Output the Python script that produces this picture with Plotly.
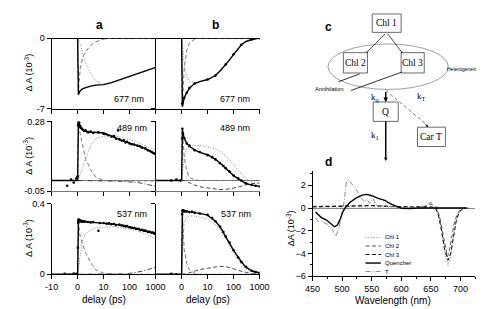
import math
import plotly.graph_objects as go

W, H = 484, 309

# ---------------- data: kinetics (delay in ps) ----------------
T_FIT = [-10, -2, 0, 0.3, 1, 2, 3, 5, 7, 10, 20, 30, 50, 70, 100, 200, 300, 500, 1000]

A677_fit  = [0, 0, 0, -5.6, -5.2, -5.0, -4.9, -4.75, -4.65, -4.6, -4.4, -4.25, -4.05, -3.92, -3.8, -3.55, -3.42, -3.2, -2.9]
A677_slow = [0, 0, 0, -0.1, -0.6, -1.6, -2.4, -3.5, -4.25, -4.55, -4.45, -4.3, -4.1, -3.97, -3.85, -3.6, -3.47, -3.25, -2.95]
A677_fast = [0, 0, 0, -5.4, -3.0, -1.9, -1.4, -0.7, -0.35, -0.1, 0, 0, 0, 0, 0, 0, 0, 0, 0]
A677_dat_t = [-5, -4, -3, -2, -1, -0.5]
A677_dat_v = [0.05, 0.08, 0.04, 0.07, 0.05, 0.06]

B677_fit  = [0, 0, 0, -6.8, -5.9, -5.4, -4.95, -4.5, -4.3, -4.1, -3.7, -3.25, -2.6, -2.15, -1.6, -0.65, -0.33, -0.13, 0]
B677_slow = [0, 0, 0, -0.3, -2.5, -3.8, -4.3, -4.45, -4.3, -4.1, -3.72, -3.27, -2.62, -2.17, -1.62, -0.67, -0.35, -0.15, -0.02]
B677_fast = [0, 0, 0, -6.5, -3.0, -1.2, -0.5, -0.1, 0, 0, 0, 0, 0, 0, 0, 0, 0, 0, 0]
B677_dat_t = [-4, -3, -2, -1, 0.2, 0.5, 1, 2, 3, 5, 10, 20, 50, 100, 200, 500, 1000]
B677_dat_v = [0.1, 0.08, 0.1, 0.05, -6.5, -6.3, -5.9, -5.4, -4.95, -4.5, -4.1, -3.7, -2.6, -1.6, -0.65, -0.13, 0]

A489_fit  = [0, 0, 0, 0.275, 0.255, 0.24, 0.233, 0.23, 0.228, 0.225, 0.21, 0.2, 0.19, 0.183, 0.177, 0.167, 0.158, 0.145, 0.125]
A489_slow = [0, 0, 0, 0.005, 0.03, 0.07, 0.1, 0.165, 0.198, 0.21, 0.215, 0.21, 0.205, 0.2, 0.195, 0.182, 0.172, 0.158, 0.14]
A489_fast = [0, 0, 0, 0.27, 0.22, 0.16, 0.105, 0.05, 0.017, 0.0, -0.002, -0.002, -0.002, -0.002, -0.002, -0.002, -0.002, -0.002, -0.002]
A489_T    = [0, 0, 0, 0, 0, 0, 0, 0, 0, 0, -0.002, -0.003, -0.004, -0.005, -0.006, -0.01, -0.013, -0.018, -0.028]
A489_dat_t = [-4, -2.5, -1.5, -0.5, 0, 0.2, 0.3, 0.4, 0.5, 0.6, 0.8, 1, 1.3, 1.6, 2, 2.5, 3, 4, 5, 6, 8, 10,
              12, 15, 20, 25, 30, 36, 40, 50, 60, 70, 80, 100, 120, 150, 200, 250, 300, 400, 500, 600, 700, 800, 900, 1000]
A489_dat_v = [-0.025, 0.005, -0.01, 0.01, 0.02, 0.26, 0.28, 0.27, 0.265, 0.275, 0.26, 0.255, 0.25, 0.245, 0.24, 0.235, 0.238,
              0.228, 0.232, 0.225, 0.228, 0.222, 0.22, 0.214, 0.208, 0.21, 0.198, 0.237, 0.195, 0.188, 0.19, 0.18, 0.183,
              0.175, 0.172, 0.17, 0.165, 0.162, 0.155, 0.152, 0.143, 0.14, 0.135, 0.13, 0.128, 0.125]

B489_fit  = [0, 0, 0, 0.24, 0.2, 0.175, 0.162, 0.145, 0.133, 0.122, 0.1, 0.083, 0.058, 0.043, 0.023, -0.002, -0.014, -0.022, -0.028]
B489_slow = [0, 0, 0, 0.03, 0.11, 0.15, 0.162, 0.166, 0.166, 0.16, 0.15, 0.138, 0.115, 0.098, 0.075, 0.03, 0.008, -0.006, -0.013]
B489_fast = [0, 0, 0, 0.235, 0.11, 0.045, 0.015, 0.003, 0, 0, 0, 0, 0, 0, 0, 0, 0, 0, 0]
B489_long = [0, 0, 0, 0, 0, -0.005, -0.012, -0.022, -0.03, -0.035, -0.042, -0.043, -0.042, -0.04, -0.036, -0.027, -0.02, -0.015, -0.012]
B489_dat_t = [-4, -2, -0.5, 0.2, 0.3, 0.5, 1, 2, 3, 5, 7, 10, 15, 20, 30, 40, 50, 70, 100, 150, 200, 300, 500, 700, 1000]
B489_dat_v = [0.0, 0.005, 0.0, 0.2, 0.245, 0.225, 0.2, 0.175, 0.165, 0.143, 0.135, 0.12, 0.11, 0.1, 0.082, 0.07, 0.058,
              0.042, 0.024, 0.01, 0.0, -0.013, -0.021, -0.025, -0.028]

A537_fit  = [0, 0, 0, 0.30, 0.30, 0.298, 0.297, 0.295, 0.292, 0.29, 0.285, 0.282, 0.278, 0.272, 0.267, 0.256, 0.25, 0.242, 0.232]
A537_slow = [0, 0, 0, 0.02, 0.11, 0.2, 0.23, 0.25, 0.262, 0.267, 0.27, 0.27, 0.266, 0.262, 0.257, 0.245, 0.236, 0.222, 0.203]
A537_fast = [0, 0, 0, 0.3, 0.21, 0.16, 0.125, 0.066, 0.025, 0.006, 0, 0, 0, 0, 0, 0, 0, 0, 0]
A537_T    = [0, 0, 0, 0, 0, 0, 0, 0, 0, 0, 0, 0.0005, 0.001, 0.003, 0.005, 0.012, 0.017, 0.026, 0.04]
A537_dat_t = [-5, -3, -1.5, -0.5, 0.1, 0.2, 0.3, 0.4, 0.5, 0.6, 0.7, 0.8, 1, 1.3, 1.6, 2, 2.5, 3, 4, 5, 6, 8, 8.5, 10,
              13, 16, 20, 25, 30, 40, 50, 60, 70, 80, 100, 120, 150, 180, 220, 260, 300, 350, 400, 500, 600, 700, 800, 900, 1000]
A537_dat_v = [0.003, -0.003, 0.004, 0.002, 0.15, 0.29, 0.305, 0.31, 0.3, 0.308, 0.302, 0.306, 0.3, 0.303, 0.298, 0.301,
              0.297, 0.299, 0.296, 0.293, 0.295, 0.246, 0.29, 0.29, 0.287, 0.288, 0.284, 0.285, 0.279, 0.281, 0.276, 0.274,
              0.271, 0.273, 0.266, 0.264, 0.262, 0.258, 0.257, 0.25, 0.252, 0.246, 0.247, 0.24, 0.24, 0.235, 0.236, 0.23, 0.232]

B537_fit  = [0, 0, 0, 0.36, 0.357, 0.355, 0.353, 0.35, 0.345, 0.335, 0.3, 0.27, 0.215, 0.18, 0.135, 0.07, 0.04, 0.02, 0.008]
B537_slow = [0, 0, 0, 0.1, 0.3, 0.325, 0.33, 0.33, 0.322, 0.312, 0.283, 0.255, 0.2, 0.163, 0.12, 0.058, 0.03, 0.012, 0.003]
B537_fast = [0, 0, 0, 0.35, 0.14, 0.06, 0.025, 0.005, 0, 0, 0, 0, 0, 0, 0, 0, 0, 0, 0]
B537_long = [0, 0, 0, 0, 0, 0.003, 0.008, 0.018, 0.027, 0.034, 0.043, 0.045, 0.043, 0.038, 0.031, 0.017, 0.009, 0.003, 0.001]
B537_dat_t = [-4, -2, 0.2, 0.3, 0.5, 0.8, 1, 1.5, 2, 3, 4, 5, 7, 10, 15, 20, 30, 40, 50, 70, 100, 150, 200, 300, 500, 700, 1000]
B537_dat_v = [0.002, 0.0, 0.34, 0.36, 0.362, 0.356, 0.36, 0.355, 0.357, 0.352, 0.353, 0.349, 0.344, 0.336, 0.318, 0.3,
              0.27, 0.24, 0.214, 0.18, 0.136, 0.095, 0.07, 0.042, 0.02, 0.012, 0.008]

DELAY_TICKS = [-10, 0, 10, 100, 1000]
DELAY_LABELS_A = ["-10", "0", "10", "100", "1000"]
DELAY_LABELS_B = ["", "0", "10", "100", "1000"]

# ---------------- data: spectra (panel d) ----------------
WL_Q = [455, 465, 473, 481, 487, 492, 497, 501, 505, 513, 524, 534, 542, 550, 561, 572, 582, 593, 601, 614, 630, 660, 680, 710]
V_Q  = [-0.36, -0.84, -1.04, -1.37, -1.65, -1.5, -0.96, -0.36, 0.0, 0.48, 0.89, 1.13, 1.2, 1.08, 0.84, 0.68, 0.36, 0.12, -0.03, -0.04, 0.0, 0.0, 0.0, 0.0]
WL_T = [455, 460, 465, 476, 484, 489, 494, 500, 503, 507, 510, 516, 524, 532, 537, 542, 547, 552, 557, 565, 575, 590, 600, 620, 640, 650, 657, 665, 710]
V_T  = [-0.9, -1.2, -1.15, -1.45, -1.95, -2.5, -1.95, -0.5, 0.4, 2.2, 2.5, 2.15, 1.6, 0.9, 0.55, 0.75, 0.4, 0.85, 0.3, 0.2, 0.15, 0.1, 0.05, 0.1, 0.15, 0.5, 0.15, 0.0, 0.0]
WL_C1 = [450, 500, 550, 600, 655, 660, 665, 670, 675, 679, 683, 687, 692, 697, 703, 710]
V_C1  = [0.0, 0.0, 0.0, 0.0, 0.0, -0.2, -1.0, -2.6, -4.3, -5.1, -4.4, -2.9, -1.3, -0.45, -0.1, 0.0]
WL_C2 = [450, 500, 520, 550, 580, 600, 620, 640, 650, 655, 660, 665, 670, 675, 678, 681, 685, 690, 695, 700, 705, 715]
V_C2  = [0.15, 0.2, 0.25, 0.22, 0.15, 0.1, 0.1, 0.15, 0.35, 0.2, 0.0, -0.8, -2.2, -3.8, -4.3, -3.8, -2.5, -1.2, -0.5, -0.15, 0.0, 0.0]
WL_C3 = [450, 500, 550, 600, 650, 658, 663, 668, 673, 679, 684, 688, 693, 698, 704, 712]
V_C3  = [0.1, 0.15, 0.2, 0.1, 0.1, 0.0, -0.7, -2.0, -3.6, -4.6, -3.9, -2.6, -1.1, -0.35, -0.05, 0.0]
WL_TICKS = [450, 500, 550, 600, 650, 700]
DA_TICKS = [2, 0, -2, -4, -6]


def lp(t):
    """lin-log delay axis: linear from -10 to 10 ps, logarithmic above."""
    return (t + 10) / 10 if t <= 10 else 2 + math.log10(t / 10)


def fx(px):
    return px / W


def fy(py):
    return 1 - py / H


FONT = "Liberation Sans, Arial, sans-serif"
SERIF = "Liberation Serif, Times New Roman, serif"

fig = go.Figure()

GRAY_DOT = "#8a8a8a"
GRAY_DASH = "#6a6a6a"
DOT = "1px,1.6px"
DASH = "4px,2.5px"
DASHDOT = "5px,2px,1px,2px"


def line(xa, ya, t, v, color, dash="solid", width=1.0):
    fig.add_trace(go.Scatter(x=[lp(a) for a in t], y=v, xaxis=xa, yaxis=ya, mode="lines",
                             line=dict(color=color, dash=dash, width=width), showlegend=False, hoverinfo="skip"))


def dots(xa, ya, t, v):
    fig.add_trace(go.Scatter(x=[lp(a) for a in t], y=v, xaxis=xa, yaxis=ya, mode="markers",
                             marker=dict(color="black", size=2.6), showlegend=False, hoverinfo="skip"))


panels = [
    ("x", "y", A677_fit, A677_slow, A677_fast, None, None, A677_dat_t, A677_dat_v),
    ("x2", "y2", B677_fit, B677_slow, B677_fast, None, None, B677_dat_t, B677_dat_v),
    ("x3", "y3", A489_fit, A489_slow, A489_fast, A489_T, DASHDOT, A489_dat_t, A489_dat_v),
    ("x4", "y4", B489_fit, B489_slow, B489_fast, B489_long, DASH, B489_dat_t, B489_dat_v),
    ("x5", "y5", A537_fit, A537_slow, A537_fast, A537_T, DASHDOT, A537_dat_t, A537_dat_v),
    ("x6", "y6", B537_fit, B537_slow, B537_fast, B537_long, DASH, B537_dat_t, B537_dat_v),
]
for xa, ya, fit, slow, fast, extra, exdash, dt, dv in panels:
    if extra is not None:
        line(xa, ya, T_FIT[2:], extra[2:], "#333333", exdash, 0.9)
    line(xa, ya, T_FIT[2:], fast[2:], GRAY_DASH, DASH, 0.9)
    line(xa, ya, T_FIT[2:], slow[2:], GRAY_DOT, DOT, 1.0)
    dots(xa, ya, dt, dv)
    line(xa, ya, T_FIT, fit, "black", "solid", 1.4)

# panel d spectra
fig.add_trace(go.Scatter(x=WL_C1, y=V_C1, xaxis="x7", yaxis="y7", mode="lines", name="Chl 1",
                         line=dict(color="#8a8a8a", dash=DOT, width=1), showlegend=False))
fig.add_trace(go.Scatter(x=WL_C2, y=V_C2, xaxis="x7", yaxis="y7", mode="lines", name="Chl 2",
                         line=dict(color="#555555", dash=DASH, width=1), showlegend=False))
fig.add_trace(go.Scatter(x=WL_C3, y=V_C3, xaxis="x7", yaxis="y7", mode="lines", name="Chl 3",
                         line=dict(color="black", dash=DASH, width=1), showlegend=False))
fig.add_trace(go.Scatter(x=WL_T, y=V_T, xaxis="x7", yaxis="y7", mode="lines", name="T",
                         line=dict(color="#8a8a8a", dash=DASHDOT, width=1), showlegend=False))
fig.add_trace(go.Scatter(x=WL_Q, y=V_Q, xaxis="x7", yaxis="y7", mode="lines", name="Quencher",
                         line=dict(color="black", dash="solid", width=1.4), showlegend=False))

# ---------------- axes ----------------
COLS = {"a": (37, 145), "b": (145, 253)}
ROWS = [(26, 99, [-7, 0], ["-7", "0"]),
        (112, 184, [-0.05, 0.28], ["-0.05", "0.28"]),
        (197, 270, [0, 0.4], ["0", "0.4"])]
lay = {}
n = 0
for r, (top, bot, yr, ylab) in enumerate(ROWS):
    for c in ("a", "b"):
        n += 1
        xs = "xaxis" if n == 1 else f"xaxis{n}"
        ys = "yaxis" if n == 1 else f"yaxis{n}"
        xid = "x" if n == 1 else f"x{n}"
        yid = "y" if n == 1 else f"y{n}"
        last = r == 2
        lay[xs] = dict(domain=[fx(COLS[c][0]), fx(COLS[c][1])], range=[0, 4], anchor=yid,
                       tickvals=[lp(v) for v in DELAY_TICKS],
                       ticktext=DELAY_LABELS_A if c == "a" else DELAY_LABELS_B,
                       showticklabels=last, ticks="outside", ticklen=4, tickcolor="black",
                       showline=True, linecolor="#777777" if r == 1 else "black", linewidth=1,
                       showgrid=False, zeroline=False, tickfont=dict(family=FONT, size=9, color="black"))
        lay[ys] = dict(domain=[fy(bot), fy(top)], range=yr, anchor=xid, tickvals=yr, ticktext=ylab,
                       showticklabels=(c == "a"), ticks="outside", ticklen=4, tickcolor="black",
                       showline=True, linecolor="black", linewidth=1, showgrid=False,
                       zeroline=(r < 2), zerolinecolor="black" if r == 0 else "#888888", zerolinewidth=1,
                       tickfont=dict(family=FONT, size=9, color="black"))

lay["xaxis7"] = dict(domain=[fx(308), fx(477)], range=[450, 725], anchor="y7", tickvals=WL_TICKS,
                     ticks="outside", ticklen=4, tickcolor="black", showline=True, linecolor="black",
                     showgrid=False, zeroline=False, tickfont=dict(family=FONT, size=9, color="black"),
                     minor=dict(dtick=25, tick0=450, ticks="outside", ticklen=2, tickcolor="black"))
lay["yaxis7"] = dict(domain=[fy(272), fy(163)], range=[-6, 3.28], anchor="x7", tickvals=DA_TICKS,
                     ticks="outside", ticklen=4, tickcolor="black", showline=True, linecolor="black",
                     showgrid=False, zeroline=True, zerolinecolor="#888888", zerolinewidth=1,
                     tickfont=dict(family=FONT, size=9, color="black"),
                     minor=dict(dtick=1, ticks="outside", ticklen=2, tickcolor="black"))
# overlay in pixel units for the scheme and labels
lay["xaxis8"] = dict(domain=[0, 1], range=[0, W], anchor="y8", visible=False, fixedrange=True)
lay["yaxis8"] = dict(domain=[0, 1], range=[H, 0], anchor="x8", visible=False, fixedrange=True)

fig.add_trace(go.Scatter(x=[0], y=[0], xaxis="x8", yaxis="y8", mode="markers",
                         marker=dict(opacity=0), showlegend=False, hoverinfo="skip"))

shapes = []
ann = []


def P(**k):
    d = dict(xref="x8", yref="y8")
    d.update(k)
    return d


def txt(x, y, s, size=9, family=FONT, bold=False, xanchor="center", angle=0, color="black"):
    ann.append(P(x=x, y=y, text=f"<b>{s}</b>" if bold else s, showarrow=False, xanchor=xanchor,
                 yanchor="middle", textangle=angle, font=dict(family=family, size=size, color=color)))


def seg(x0, y0, x1, y1, color="black", width=1, dash="solid"):
    shapes.append(P(type="line", x0=x0, y0=y0, x1=x1, y1=y1, line=dict(color=color, width=width, dash=dash)))


def box(x0, y0, x1, y1):
    shapes.append(P(type="rect", x0=x0, y0=y0, x1=x1, y1=y1, line=dict(color="#444444", width=0.8),
                    fillcolor="white"))


def arrow(x0, y0, x1, y1, width=1, size=0.8, head=2):
    ann.append(P(x=x1, y=y1, ax=x0, ay=y0, axref="x8", ayref="y8", showarrow=True, text="",
                 arrowhead=head, arrowsize=size, arrowwidth=width, arrowcolor="black",
                 font=dict(family=FONT, size=6, color="black")))


# panel letters
txt(87, 12, "a", 12, bold=True)
txt(207, 12, "b", 12, bold=True)
txt(325, 14, "c", 12, bold=True)
txt(325, 154, "d", 12, bold=True)

# wavelength labels
for (x, y, s) in [(117, 89, "677 nm"), (227, 89, "677 nm"), (120, 119, "489 nm"), (227, 119, "489 nm"),
                  (120, 208, "537 nm"), (229, 208, "537 nm")]:
    txt(x, y, s, 9)

# axis titles
for yc in (62, 148, 233):
    txt(13, yc, "Δ A (10<sup>-3</sup>)", 9, angle=-90)
txt(91, 296, "delay (ps)", 10)
txt(199, 296, "delay (ps)", 10)
txt(285, 222, "ΔA (10<sup>-3</sup>)", 9, angle=-90)
txt(392, 297, "Wavelength (nm)", 10)

# scheme (panel c)
shapes.append(P(type="circle", x0=324, y0=32, x1=449, y1=79, line=dict(color="#888888", width=0.8)))
arrow(385, 20, 364, 41, width=0.7, size=0.5, head=1)
arrow(385, 20, 401, 41, width=0.7, size=0.5, head=1)
box(370, 1, 400, 20)
box(340, 41, 365, 62)
box(400, 41, 424, 62)
seg(357, 63, 335, 71, width=0.8)
seg(401, 61, 348, 80, width=0.8)
txt(385, 10.5, "Chl 1", 9.5, SERIF)
txt(352.5, 51.5, "Chl 2", 9.5, SERIF)
txt(412, 51.5, "Chl 3", 9.5, SERIF)
txt(483, 58, "Heterogeneity", 5, xanchor="right")
txt(325, 79, "Annihilation", 5.5)
arrow(384, 80, 384, 92, width=1.5, size=0.6)
seg(384, 80, 426, 115, color="#444444", width=0.8, dash="dot")
arrow(424, 113, 428, 118, width=0.8, size=0.6)
box(371, 92, 397, 112)
txt(384, 102, "Q", 9.5, SERIF)
box(417, 118, 446, 138)
txt(431.5, 128, "Car T", 9.5, SERIF)
seg(384, 112, 384, 148, width=1.5)
arrow(384, 146, 384, 153, width=1.2, size=0.6)
txt(373, 87, "k<sub>q</sub>", 9, SERIF)
txt(421, 86, "k<sub>T</sub>", 9, SERIF)
txt(373, 127, "k<sub>1</sub>", 9, SERIF)

# legend of panel d
LEG = [("Chl 1", "#8a8a8a", DOT, 1), ("Chl 2", "#555555", DASH, 1), ("Chl 3", "black", DASH, 1),
       ("Quencher", "black", "solid", 1.4), ("T", "#8a8a8a", DASHDOT, 1)]
for i, (name, col, dsh, wd) in enumerate(LEG):
    yy = 232 + i * 8.8
    seg(363, yy, 379, yy, color=col, width=wd, dash=dsh)
    txt(381, yy, name, 6, xanchor="left")

fig.update_layout(width=W, height=H, margin=dict(l=0, r=0, t=0, b=0), paper_bgcolor="white",
                  plot_bgcolor="rgba(0,0,0,0)", showlegend=False, shapes=shapes, annotations=ann,
                  font=dict(family=FONT, color="black"), **lay)

fig.write_html("out.html")
